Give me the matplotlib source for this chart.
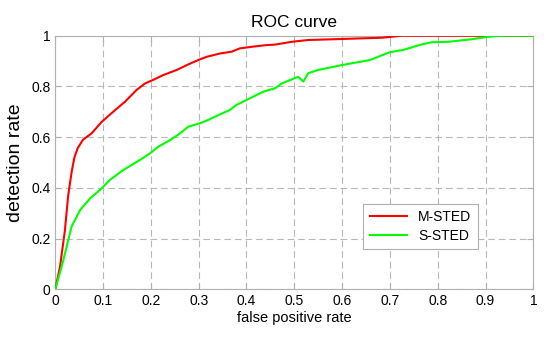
import numpy as np
import matplotlib
matplotlib.use("Agg")
import matplotlib.pyplot as plt

plt.rcParams['font.family'] = ['Liberation Sans', 'DejaVu Sans']

# M-STED curve (false positive rate, detection rate)
m_fpr = [0, 0.01, 0.02, 0.027, 0.034, 0.04, 0.047, 0.058, 0.076, 0.097, 0.121,
         0.146, 0.170, 0.188, 0.204, 0.226, 0.254, 0.275, 0.299, 0.317, 0.345,
         0.369, 0.386, 0.414, 0.442, 0.46, 0.495, 0.529, 0.599, 0.683, 0.725, 1.0]
m_tpr = [0, 0.09, 0.23, 0.37, 0.46, 0.52, 0.557, 0.59, 0.615, 0.66, 0.70,
         0.74, 0.786, 0.812, 0.825, 0.845, 0.865, 0.884, 0.904, 0.917, 0.93,
         0.937, 0.950, 0.957, 0.963, 0.965, 0.976, 0.983, 0.987, 0.992, 1.0, 1.0]

# S-STED curve
s_fpr = [0, 0.017, 0.034, 0.052, 0.073, 0.097, 0.114, 0.142, 0.177, 0.198,
         0.215, 0.24, 0.261, 0.278, 0.303, 0.32, 0.341, 0.365, 0.379, 0.407,
         0.435, 0.46, 0.474, 0.508, 0.519, 0.529, 0.55, 0.599, 0.658, 0.70,
         0.728, 0.767, 0.787, 0.822, 0.871, 0.906, 0.934, 1.0]
s_tpr = [0, 0.116, 0.247, 0.313, 0.359, 0.398, 0.431, 0.470, 0.51, 0.536,
         0.562, 0.588, 0.615, 0.641, 0.655, 0.668, 0.687, 0.707, 0.727, 0.753,
         0.779, 0.793, 0.812, 0.838, 0.819, 0.852, 0.865, 0.884, 0.904, 0.935,
         0.944, 0.966, 0.974, 0.976, 0.986, 0.996, 1.0, 1.0]

ticks_x = np.arange(0, 1.01, 0.1)
ticks_y = np.arange(0, 1.01, 0.2)
axis_grey = '#b0b0b0'

fig = plt.figure(figsize=(5.5, 3.4), dpi=100)
ax = fig.add_axes([0.1005, 0.149, 0.8692, 0.746])

ax.plot(m_fpr, m_tpr, color='#ff0000', lw=1.5, label='M-STED', zorder=3)
ax.plot(s_fpr, s_tpr, color='#00ff00', lw=1.5, label='S-STED', zorder=3)

ax.set_xlim(0, 1)
ax.set_ylim(0, 1)
ax.set_xticks(ticks_x)
ax.set_xticklabels(['0', '0.1', '0.2', '0.3', '0.4', '0.5', '0.6', '0.7', '0.8', '0.9', '1'])
ax.set_yticks(ticks_y)
ax.set_yticklabels(['0', '0.2', '0.4', '0.6', '0.8', '1'])
ax.tick_params(direction='in', length=4, color=axis_grey, labelsize=10,
               top=True, right=True)
for sp in ax.spines.values():
    sp.set_color(axis_grey)
    sp.set_linewidth(0.8)

ax.grid(True, color='#b8b8b8', linestyle=(0, (6, 3.5)), linewidth=0.8)
ax.set_axisbelow(True)

ax.set_title('ROC curve', fontsize=12.5, pad=6)
ax.set_xlabel('false positive rate', fontsize=10.5, labelpad=2)
ax.set_ylabel('detection rate', fontsize=14, labelpad=5)

leg = ax.legend(loc='lower left', bbox_to_anchor=(0.636, 0.143), fontsize=10,
                fancybox=False, framealpha=1, edgecolor=axis_grey,
                handlelength=2.7, borderpad=0.45, labelspacing=0.35,
                borderaxespad=0.3)
leg.get_frame().set_linewidth(0.8)

fig.savefig('out.png', dpi=100)
